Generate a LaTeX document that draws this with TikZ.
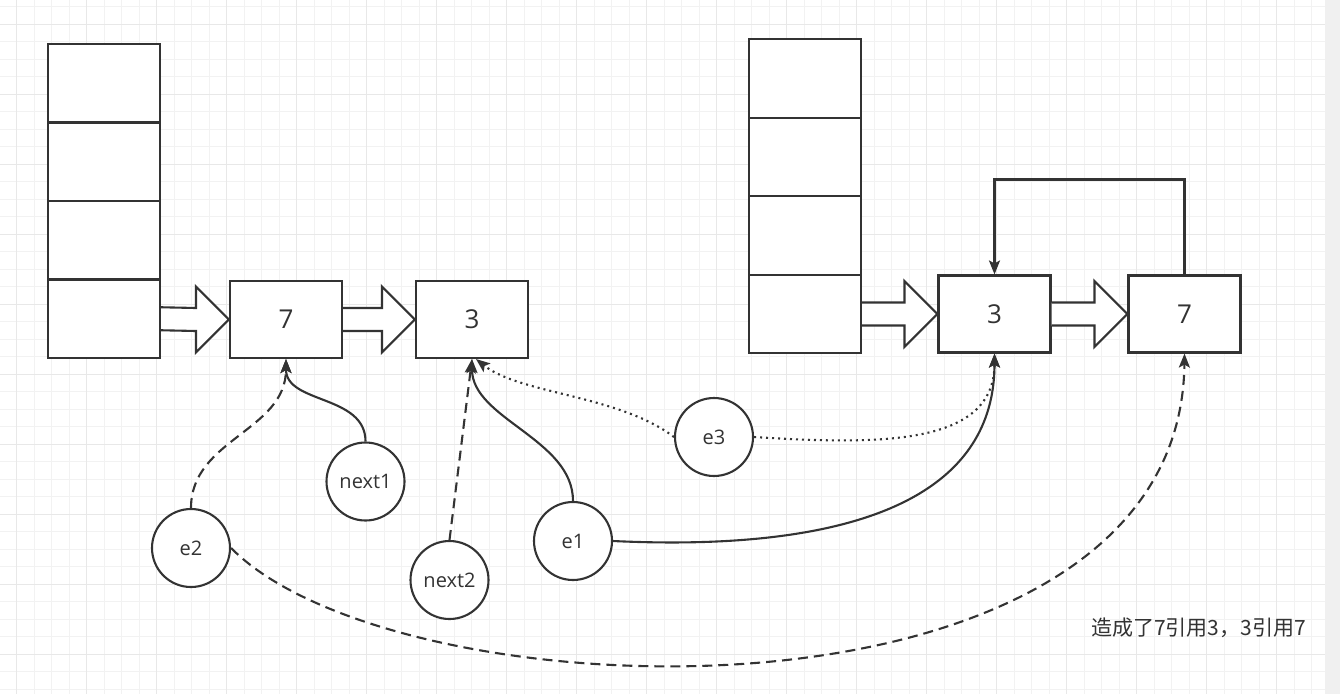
\documentclass[tikz,border=0pt]{standalone}
\usepackage{fontspec}
\setmainfont{Open Sans}
\newfontfamily\cjk{Noto Sans CJK SC}
\usepackage{tikz}
\usetikzlibrary{arrows.meta, calc}
\definecolor{rfLine}{RGB}{51,51,51}
\definecolor{rfGrid}{RGB}{242,242,242}
\definecolor{rfGridMajor}{RGB}{232,232,232}
\definecolor{rfBar}{RGB}{240,240,240}
\newcommand{\fatarrow}[2]{%
  \draw[fat] ($(#1.east)+(0,-11.5)$) -- ($(#2.west)+(-33,-11.5)$)
    -- ($(#2.west)+(-33,-33)$) -- (#2.west) -- ($(#2.west)+(-33,33)$)
    -- ($(#2.west)+(-33,11.5)$) -- ($(#1.east)+(0,11.5)$);}

\begin{document}
\begin{tikzpicture}[x=1pt, y=-1pt, line width=2.1pt,
    gridline/.style={draw=rfGrid, line width=1pt},
    gridmajor/.style={draw=rfGridMajor, line width=1.2pt},
    cell/.style={draw=rfLine, fill=white, minimum width=112pt,
                 minimum height=78.5pt, inner sep=0pt},
    box/.style={draw=rfLine, fill=white, minimum width=112pt, minimum height=77pt,
                inner sep=0pt, text=rfLine, font=\fontsize{26}{30}\selectfont},
    var/.style={circle, draw=rfLine, fill=white, minimum size=78pt, inner sep=0pt,
                text=rfLine, font=\fontsize{20}{24}\selectfont},
    fat/.style={draw=rfLine, fill=white, line join=miter},
    link/.style={draw=rfLine, -{Stealth[length=14pt, width=11pt, inset=3pt]}},
    weak/.style={link, dash pattern=on 10pt off 6pt},
    soft/.style={link, dash pattern=on 2pt off 4pt}]
    \useasboundingbox (0,0) rectangle (1340,694);
    % grid
    \fill[white] (0,0) rectangle (1340,694);
    \foreach \gx in {0,...,75} \draw[gridline] ({16.7+17.5*\gx},0) -- ++(0,694);
    \foreach \gy in {0,...,39} \draw[gridline] (0,{6.8+17.5*\gy}) -- ++(1340,0);
    \foreach \gx in {0,...,18} \draw[gridmajor] ({16.7+70*\gx},0) -- ++(0,694);
    \foreach \gy in {0,...,9} \draw[gridmajor] (0,{24.3+70*\gy}) -- ++(1340,0);
    \fill[rfBar] (1325,0) rectangle (1340,694);
    % before: stack and list
    \foreach \i in {1,...,4}
      \node[cell] (ls\i) at (104,{4.75+78.5*\i}) {};
    \node[box] (b7l) at (286,319.5) {7};
    \node[box] (b3l) at (472,319.5) {3};
    \fatarrow{ls4}{b7l}
    \fatarrow{b7l}{b3l}
    % after: stack and list
    \foreach \i in {1,...,4}
      \node[cell] (rs\i) at (805,{78.5*\i}) {};
    \node[box] (b3r) at (994.5,314) {3};
    \node[box] (b7r) at (1184.5,314) {7};
    \fatarrow{rs4}{b3r}
    \fatarrow{b3r}{b7r}
    \draw[link] (b7r.north) |- ($(b3r.north)+(0,-95)$) -- (b3r.north);
    % references
    \node[var] (e2) at (191,548) {e2};
    \node[var] (next1) at (365.5,481.5) {next1};
    \node[var] (next2) at (449.5,580) {next2};
    \node[var] (e1) at (573,541) {e1};
    \node[var] (e3) at (714,437) {e3};
    \draw[link] (next1.north) .. controls +(0,-47) and +(0,45) .. (b7l.south);
    \draw[weak] (e2.north) .. controls +(0,-69) and +(0,72) .. (b7l.south);
    \draw[link] (e1.north) .. controls +(0,-62) and +(0,60) .. (b3l.south);
    \draw[weak] (next2.north) -- (b3l.south);
    \draw[soft] (e3.west) .. controls +(-55,-42) and +(44,35) .. ([xshift=4pt]b3l.south);
    \draw[soft] (e3.east) .. controls +(127,8) and +(0,92) .. (b3r.south);
    \draw[link] (e1.east) .. controls +(188,9) and +(0,167) .. (b3r.south);
    \draw[weak] (e2.east) .. controls +(170,172) and +(-4,387) .. (b7r.south);
    \node[anchor=west, inner sep=0pt, text=rfLine, font=\cjk\fontsize{21}{24}\selectfont]
      (note) at (1090,628) {造成了7引用3，3引用7};
\end{tikzpicture}
\end{document}
